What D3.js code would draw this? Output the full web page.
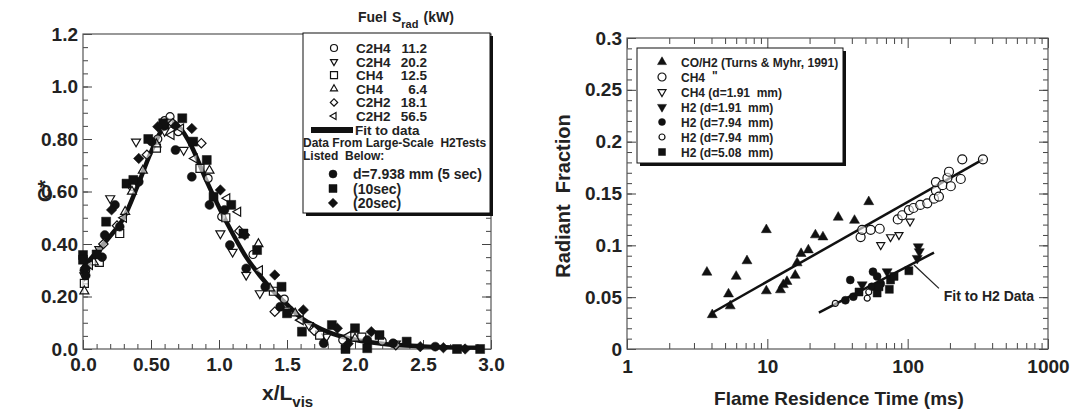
<!DOCTYPE html>
<html>
<head>
<meta charset="utf-8">
<title>C* profile and radiant fraction</title>
<style>
body {margin:0; background:#fff;}
svg text {font-family: "Liberation Sans", Arial, sans-serif; font-weight: bold; fill: #222; white-space: pre;}
.tick line {stroke: #444;}
</style>
</head>
<body>
<svg id="chart" width="1076" height="414"></svg>
<script src="https://d3js.org/d3.v7.min.js"></script>
<script>
// ---------- left panel : C* vs x/Lvis ----------
var c2h4_112 = [[0.02,0.30],[0.36,0.62],[0.55,0.80],[0.60,0.87],[0.64,0.885],[0.70,0.828],[0.92,0.65],[1.02,0.504],[1.25,0.36],[1.48,0.19],[1.91,0.034],[2.2,0.03]];
var c2h4_202 = [[0.01,0.28],[0.12,0.38],[0.20,0.574],[0.39,0.79],[0.60,0.83],[0.74,0.758],[1.01,0.44],[1.10,0.37],[1.20,0.282],[1.30,0.212],[1.50,0.15],[1.66,0.091],[1.79,0.047],[2.3,0.02]];
var ch4_125 = [[0.01,0.25],[0.12,0.33],[0.27,0.44],[0.54,0.765],[0.63,0.86],[0.86,0.688],[1.05,0.50],[1.40,0.22],[1.74,0.053],[2.05,0.045]];
var ch4_64 = [[0.01,0.22],[0.08,0.33],[0.31,0.523],[0.36,0.60],[0.44,0.68],[0.54,0.78],[0.93,0.68],[1.18,0.434],[1.29,0.40],[1.375,0.231],[1.56,0.136],[2.0,0.04]];
var c2h2_181 = [[0.15,0.40],[0.25,0.47],[0.47,0.74],[0.66,0.86],[0.87,0.784],[1.15,0.45],[1.41,0.142],[1.70,0.07],[2.3,0.015]];
var c2h2_565 = [[0.05,0.32],[0.30,0.50],[0.65,0.815],[0.72,0.84],[0.82,0.726],[1.06,0.574],[1.14,0.523],[1.30,0.30],[1.60,0.11],[1.95,0.05]];
var h2_5s = [[0.01,0.30],[0.02,0.28],[0.14,0.35],[0.16,0.434],[0.235,0.549],[0.27,0.466],[0.41,0.637],[0.505,0.79],[0.60,0.85],[0.68,0.758],[0.80,0.656],[0.93,0.549],[1.04,0.53],[1.08,0.396],[1.20,0.307],[1.34,0.237],[1.45,0.161],[1.77,0.022],[2.09,0.034],[2.28,0.022],[2.59,0.009]];
var h2_10s = [[0.0,0.358],[0.0,0.34],[0.10,0.36],[0.17,0.485],[0.32,0.63],[0.37,0.644],[0.48,0.80],[0.59,0.86],[0.73,0.879],[0.81,0.79],[0.91,0.72],[0.96,0.58],[1.09,0.549],[1.18,0.44],[1.28,0.377],[1.46,0.237],[1.50,0.136],[1.61,0.066],[1.83,0.091],[1.93,0.0],[2.0,0.079],[2.09,0.003],[2.18,0.053],[2.38,0.028],[2.75,0.0],[2.92,0.0]];
var h2_20s = [[0.02,0.31],[0.21,0.53],[0.41,0.726],[0.55,0.847],[0.68,0.85],[0.80,0.84],[1.01,0.606],[1.19,0.434],[1.41,0.282],[1.62,0.149],[1.87,0.079],[1.95,0.02],[2.12,0.066],[2.48,0.009],[2.65,0.005],[2.81,0.0]];
var fitCurve = [[0,0.31],[0.1,0.37],[0.2,0.43],[0.3,0.50],[0.4,0.62],[0.5,0.75],[0.6,0.85],[0.65,0.865],[0.7,0.85],[0.8,0.77],[0.9,0.65],[1.0,0.54],[1.1,0.44],[1.2,0.35],[1.3,0.28],[1.4,0.22],[1.5,0.17],[1.6,0.12],[1.7,0.09],[1.8,0.065],[2.0,0.035],[2.2,0.02],[2.5,0.01],[2.9,0.005]];

var leftYTicks = [0, 0.2, 0.4, 0.6, 0.8, 1.0, 1.2];
var leftYLabels = ["0.0", "0.20", "0.40", "0.60", "0.80", "1.0", "1.2"];
var leftXTicks = [0, 0.5, 1.0, 1.5, 2.0, 2.5, 3.0];
var leftXLabels = ["0.0", "0.50", "1.0", "1.5", "2.0", "2.5", "3.0"];

var fuelRows = [["C2H4", "11.2"], ["C2H4", "20.2"], ["CH4", "12.5"], ["CH4", "6.4"], ["C2H2", "18.1"], ["C2H2", "56.5"]];
var h2Rows = ["d=7.938 mm (5 sec)", "(10sec)", "(20sec)"];

// ---------- right panel : radiant fraction vs residence time ----------
var coH2 = [[3.71,0.074],[4.05,0.033],[5.29,0.053],[5.44,0.0415],[6.0,0.07],[7.16,0.085],[9.84,0.115],[9.84,0.056],[12.4,0.057],[13.0,0.062],[13.8,0.065],[15.8,0.071],[16.3,0.083],[17.4,0.092],[19.6,0.0955],[22.0,0.110],[24.9,0.108],[32.0,0.127],[41.8,0.124],[52.8,0.142]];
var ch4Big = [[46.2,0.108],[47.4,0.115],[54.5,0.115],[63.2,0.116],[85,0.125],[91.5,0.129],[102,0.134],[110,0.136],[123,0.139],[138,0.1405],[154,0.145],[159,0.153],[167,0.147],[159,0.161],[177,0.158],[192,0.165],[197,0.171],[203,0.157],[239,0.164],[245,0.183],[344,0.183]];
var ch4d191 = [[64.3,0.1003],[75.5,0.108],[86.7,0.11],[104,0.123]];
var h2d191 = [[47.4,0.062],[71.4,0.0746],[117,0.0875],[121,0.094],[119,0.0987]];
var h2d794 = [[36,0.047],[39,0.0666],[41,0.0505],[55.5,0.06],[56.6,0.0746],[60.6,0.07],[64.3,0.063]];
var h2d794b = [[30.5,0.044],[51.5,0.049],[52.8,0.055]];
var h2d508 = [[45,0.055],[60.6,0.054],[62.5,0.06],[74,0.0576],[75.5,0.0666],[80,0.07],[102,0.0755]];
var fitAll = [[4.05,0.035],[344,0.183]];
var fitH2 = [[23.3,0.035],[154,0.093]];
var h2Pointer = [[111,0.081],[167,0.0585]];

var rightYTicks = [0, 0.05, 0.1, 0.15, 0.2, 0.25, 0.3];
var rightYLabels = ["0", "0.05", "0.1", "0.15", "0.2", "0.25", "0.3"];
var rightXTicks = [1, 10, 100, 1000];
var rightXLabels = ["1", "10", "100", "1000"];

var rightRows = ["CO/H2 (Turns & Myhr, 1991)", "CH4", "CH4 (d=1.91  mm)", "H2 (d=1.91  mm)", "H2 (d=7.94  mm)", "H2 (d=7.94  mm)", "H2 (d=5.08  mm)"];

var svg = d3.select("#chart");

// marker helper: type, size (px)
function marker(type, size) {
    var tri = Math.sqrt(3) / 4 * size * size;
    if (type == "circle") return {d: d3.symbol(d3.symbolCircle, Math.PI * size * size / 4)(), rot: 0};
    if (type == "square") return {d: d3.symbol(d3.symbolSquare, size * size)(), rot: 0};
    if (type == "diamond") return {d: d3.symbol(d3.symbolSquare, size * size * 0.55)(), rot: 45};
    if (type == "up") return {d: d3.symbol(d3.symbolTriangle, tri)(), rot: 0};
    if (type == "down") return {d: d3.symbol(d3.symbolTriangle, tri)(), rot: 180};
    if (type == "left") return {d: d3.symbol(d3.symbolTriangle, tri)(), rot: -90};
}

function drawPoints(g, data, xs, ys, type, size, filled) {
    var m = marker(type, size);
    g.append("g").selectAll("path")
        .data(data).join("path")
        .attr("d", m.d)
        .attr("transform", d => "translate(" + xs(d[0]) + "," + ys(d[1]) + ") rotate(" + m.rot + ")")
        .attr("fill", filled ? "#111" : "#fff")
        .attr("fill-opacity", filled ? 1 : 0.6)
        .attr("stroke", "#111")
        .attr("stroke-width", filled ? 0.5 : 1.2);
}

function legendMark(g, x, y, type, size, filled) {
    var m = marker(type, size);
    g.append("path").attr("d", m.d)
        .attr("transform", "translate(" + x + "," + y + ") rotate(" + m.rot + ")")
        .attr("fill", filled ? "#111" : "#fff")
        .attr("stroke", "#111").attr("stroke-width", filled ? 0.5 : 1.2);
}

function styleAxis(g, size) {
    g.select(".domain").remove();
    g.selectAll("text").style("font-size", size + "px");
}

// ===== LEFT PANEL =====
var xL = d3.scaleLinear().domain([0, 3]).range([83, 491]);
var yL = d3.scaleLinear().domain([0, 1.2]).range([349, 34]);
var left = svg.append("g");

var yMinorL = d3.range(0, 1.2001, 0.05);
var xMinorL = d3.range(0, 3.0001, 0.1);

left.append("g").attr("transform", "translate(83,0)")
    .call(d3.axisLeft(yL).tickValues(yMinorL).tickSize(-5).tickFormat("")).call(g => styleAxis(g, 0));
left.append("g").attr("transform", "translate(83,0)")
    .call(d3.axisLeft(yL).tickValues(leftYTicks).tickSize(-9).tickPadding(5).tickFormat((d, i) => leftYLabels[i]))
    .call(g => styleAxis(g, 19));
left.append("g").attr("transform", "translate(491,0)")
    .call(d3.axisRight(yL).tickValues(yMinorL).tickSize(-5).tickFormat("")).call(g => styleAxis(g, 0));
left.append("g").attr("transform", "translate(491,0)")
    .call(d3.axisRight(yL).tickValues(leftYTicks).tickSize(-9).tickFormat("")).call(g => styleAxis(g, 0));
left.append("g").attr("transform", "translate(0,349)")
    .call(d3.axisBottom(xL).tickValues(xMinorL).tickSize(-5).tickFormat("")).call(g => styleAxis(g, 0));
left.append("g").attr("transform", "translate(0,349)")
    .call(d3.axisBottom(xL).tickValues(leftXTicks).tickSize(-9).tickPadding(9).tickFormat((d, i) => leftXLabels[i]))
    .call(g => styleAxis(g, 19));

left.append("rect").attr("x", 83).attr("y", 34).attr("width", 408).attr("height", 315)
    .attr("fill", "none").attr("stroke", "#555").attr("stroke-width", 1.2);

left.append("path").datum(fitCurve)
    .attr("d", d3.line().x(d => xL(d[0])).y(d => yL(d[1])).curve(d3.curveMonotoneX))
    .attr("fill", "none").attr("stroke", "#111").attr("stroke-width", 4.5);

drawPoints(left, c2h4_112, xL, yL, "circle", 8, false);
drawPoints(left, c2h4_202, xL, yL, "down", 9, false);
drawPoints(left, ch4_125, xL, yL, "square", 8, false);
drawPoints(left, ch4_64, xL, yL, "up", 9, false);
drawPoints(left, c2h2_181, xL, yL, "diamond", 9, false);
drawPoints(left, c2h2_565, xL, yL, "left", 9, false);
drawPoints(left, h2_5s, xL, yL, "circle", 9, true);
drawPoints(left, h2_10s, xL, yL, "square", 9, true);
drawPoints(left, h2_20s, xL, yL, "diamond", 10, true);

// axis titles
left.append("text").attr("transform", "translate(52,191) rotate(-90)")
    .attr("text-anchor", "middle").style("font-size", "20px").text("C*");
var xt = left.append("text").attr("x", 262).attr("y", 400).style("font-size", "21px");
xt.append("tspan").text("x/L");
xt.append("tspan").attr("dy", 7).style("font-size", "15px").text("vis");

// legend
var legL = left.append("g");
legL.append("text").attr("x", 358).attr("y", 22).style("font-size", "14px").text("Fuel");
var sh = legL.append("text").attr("x", 392).attr("y", 22).style("font-size", "14px");
sh.append("tspan").text("S");
sh.append("tspan").attr("dy", 6).style("font-size", "11px").text("rad");
sh.append("tspan").attr("dy", -6).attr("dx", 5).text("(kW)");

legL.append("rect").attr("x", 306).attr("y", 36).attr("width", 187).attr("height", 180).attr("fill", "#111");
legL.append("rect").attr("x", 303).attr("y", 33).attr("width", 187).attr("height", 180)
    .attr("fill", "#fff").attr("stroke", "#111").attr("stroke-width", 1);

var fuelMarks = [["circle", false], ["down", false], ["square", false], ["up", false], ["diamond", false], ["left", false]];
fuelRows.forEach(function(r, i) {
    var cy = 48 + i * 13.6;
    legendMark(legL, 334, cy, fuelMarks[i][0], 7, false);
    legL.append("text").attr("x", 356).attr("y", cy + 5).style("font-size", "13.5px").text(r[0]);
    legL.append("text").attr("x", 427).attr("y", cy + 5).attr("text-anchor", "end").style("font-size", "13.5px").text(r[1]);
});
legL.append("rect").attr("x", 311).attr("y", 127).attr("width", 42).attr("height", 6).attr("fill", "#111");
legL.append("text").attr("x", 355).attr("y", 135).style("font-size", "13.5px").text("Fit to data");
legL.append("text").attr("x", 303).attr("y", 147).style("font-size", "12px").text("Data From Large-Scale  H2Tests");
legL.append("text").attr("x", 303).attr("y", 160).style("font-size", "12px").text("Listed  Below:");
var h2Marks = ["circle", "square", "diamond"];
h2Rows.forEach(function(t, i) {
    var cy = 174 + i * 14.5;
    legendMark(legL, 333, cy, h2Marks[i], h2Marks[i] == "diamond" ? 9 : 8, true);
    legL.append("text").attr("x", 353).attr("y", cy + 5).style("font-size", "14px").text(t);
});

// ===== RIGHT PANEL =====
var xR = d3.scaleLog().domain([1, 1000]).range([627, 1048]);
var yR = d3.scaleLinear().domain([0, 0.3]).range([349, 38]);
var right = svg.append("g");

var yMinorR = d3.range(0, 0.3001, 0.01);
var xMinorR = [];
[1, 10, 100].forEach(function(dec) { for (var k = 2; k <= 9; k++) xMinorR.push(dec * k); });

right.append("g").attr("transform", "translate(627,0)")
    .call(d3.axisLeft(yR).tickValues(yMinorR).tickSize(-5).tickFormat("")).call(g => styleAxis(g, 0));
right.append("g").attr("transform", "translate(627,0)")
    .call(d3.axisLeft(yR).tickValues(rightYTicks).tickSize(-9).tickPadding(5).tickFormat((d, i) => rightYLabels[i]))
    .call(g => styleAxis(g, 19));
right.append("g").attr("transform", "translate(1048,0)")
    .call(d3.axisRight(yR).tickValues(yMinorR).tickSize(-5).tickFormat("")).call(g => styleAxis(g, 0));
right.append("g").attr("transform", "translate(1048,0)")
    .call(d3.axisRight(yR).tickValues(rightYTicks).tickSize(-9).tickFormat("")).call(g => styleAxis(g, 0));
right.append("g").attr("transform", "translate(0,349)")
    .call(d3.axisBottom(xR).tickValues(xMinorR).tickSize(-6).tickFormat("")).call(g => styleAxis(g, 0));
right.append("g").attr("transform", "translate(0,349)")
    .call(d3.axisBottom(xR).tickValues(rightXTicks).tickSize(-10).tickPadding(11).tickFormat((d, i) => rightXLabels[i]))
    .call(g => styleAxis(g, 19));
right.append("g").attr("transform", "translate(0,38)")
    .call(d3.axisTop(xR).tickValues(xMinorR).tickSize(-6).tickFormat("")).call(g => styleAxis(g, 0));
right.append("g").attr("transform", "translate(0,38)")
    .call(d3.axisTop(xR).tickValues(rightXTicks).tickSize(-10).tickFormat("")).call(g => styleAxis(g, 0));

right.append("rect").attr("x", 627).attr("y", 38).attr("width", 421).attr("height", 311)
    .attr("fill", "none").attr("stroke", "#555").attr("stroke-width", 1.2);

var lineR = d3.line().x(d => xR(d[0])).y(d => yR(d[1]));
right.append("path").datum(fitAll).attr("d", lineR).attr("fill", "none").attr("stroke", "#111").attr("stroke-width", 2.5);
right.append("path").datum(fitH2).attr("d", lineR).attr("fill", "none").attr("stroke", "#111").attr("stroke-width", 2.5);
right.append("path").datum(h2Pointer).attr("d", lineR).attr("fill", "none").attr("stroke", "#222").attr("stroke-width", 1.3);
right.append("text").attr("x", xR(181)).attr("y", yR(0.046)).style("font-size", "14px").text("Fit to H2 Data");

drawPoints(right, coH2, xR, yR, "up", 10, true);
drawPoints(right, ch4Big, xR, yR, "circle", 9, false);
drawPoints(right, ch4d191, xR, yR, "down", 8, false);
drawPoints(right, h2d191, xR, yR, "down", 10, true);
drawPoints(right, h2d794, xR, yR, "circle", 8, true);
drawPoints(right, h2d794b, xR, yR, "circle", 6, false);
drawPoints(right, h2d508, xR, yR, "square", 8, true);

right.append("text").attr("transform", "translate(570,196) rotate(-90)")
    .attr("text-anchor", "middle").style("font-size", "20px").text("Radiant  Fraction");
right.append("text").attr("x", 839).attr("y", 405).attr("text-anchor", "middle")
    .style("font-size", "19px").text("Flame Residence Time (ms)");

// legend
var legR = right.append("g");
legR.append("rect").attr("x", 640).attr("y", 51).attr("width", 206).attr("height", 115).attr("fill", "#111");
legR.append("rect").attr("x", 637).attr("y", 48).attr("width", 206).attr("height", 115)
    .attr("fill", "#fff").attr("stroke", "#111").attr("stroke-width", 1);
var rightMarks = [["up", 9, true], ["circle", 8, false], ["down", 8, false], ["down", 9, true], ["circle", 7, true], ["circle", 6, false], ["square", 7, true]];
rightRows.forEach(function(t, i) {
    var cy = 62 + i * 15;
    legendMark(legR, 662, cy, rightMarks[i][0], rightMarks[i][1], rightMarks[i][2]);
    legR.append("text").attr("x", 681).attr("y", cy + 4.5).style("font-size", "12px").text(t);
});
// ditto mark after the second CH4 row
legR.append("text").attr("x", 712).attr("y", 80).style("font-size", "12px").text("\"");
</script>
</body>
</html>
